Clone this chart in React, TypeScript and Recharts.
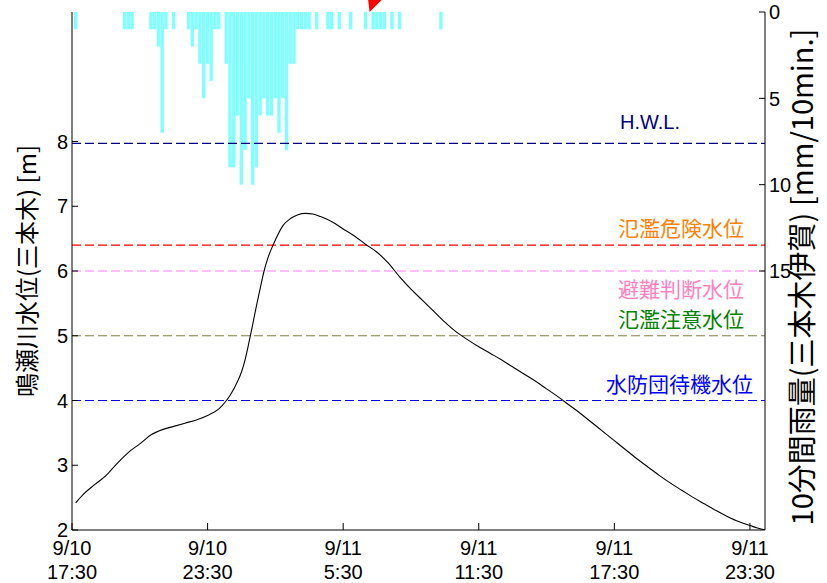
import {
  ComposedChart, Bar, Line, XAxis, YAxis, ReferenceLine, ReferenceDot,
} from 'recharts'

// rain per 10 minutes [mm], slot k = 17:30 + 10k min on 9/10
const RAIN = [
  0, 1, 0, 0, 0, 0, 0, 0, 0, 0,
  0, 0, 0, 0, 1, 1, 1, 0, 0, 0,
  0, 1, 1, 2, 7, 1, 0, 1, 0, 0,
  0, 1, 2, 1, 3, 5, 3, 4, 1, 1,
  0, 3, 9, 9, 6, 10, 8, 5, 10, 9,
  6, 5, 6, 6, 5, 7, 5, 8, 3, 3,
  1, 1, 1, 1, 0, 1, 0, 0, 1, 1,
  0, 1, 0, 0, 1, 0, 0, 0, 1, 0,
  1, 1, 1, 1, 0, 1, 0, 1, 0, 0,
  0, 0, 0, 0, 0, 0, 0, 0, 1,
]
const RAIN_STEP = 10

// water level readings (minutes after 9/10 17:30, metres)
const LEVEL_T = [
  10, 30, 60, 90, 120, 150, 180, 210, 240, 270, 300, 330, 360, 390, 410, 420,
  440, 450, 460, 470, 480, 490, 500, 510, 520, 530, 540, 560, 580, 600, 620, 640,
  660, 690, 720, 750, 780, 810, 840, 870, 900, 930, 960, 990, 1020, 1050, 1080, 1110,
  1140, 1170, 1200, 1230, 1260, 1290, 1320, 1350, 1380, 1410, 1440, 1470, 1500, 1530,
  1560, 1590, 1620, 1650, 1680, 1710, 1740, 1770, 1800, 1820, 1840,
]
const LEVEL_V = [
  2.42, 2.55, 2.70, 2.84, 3.03, 3.20, 3.33, 3.47, 3.55, 3.60, 3.65, 3.70, 3.77, 3.87, 4.00, 4.08,
  4.30, 4.44, 4.64, 4.90, 5.18, 5.47, 5.74, 6.00, 6.20, 6.35, 6.48, 6.70, 6.81, 6.87, 6.89, 6.88,
  6.84, 6.76, 6.65, 6.54, 6.41, 6.29, 6.12, 5.91, 5.72, 5.55, 5.38, 5.21, 5.06, 4.94, 4.83, 4.73,
  4.63, 4.52, 4.41, 4.30, 4.18, 4.06, 3.93, 3.80, 3.66, 3.52, 3.38, 3.24, 3.10, 2.97,
  2.84, 2.72, 2.61, 2.50, 2.40, 2.30, 2.21, 2.13, 2.07, 2.03, 2.00,
]

const X_TICKS = [0, 360, 720, 1080, 1440, 1800]
const X_TICK_DATES = ['9/10', '9/10', '9/11', '9/11', '9/11', '9/11']
const X_TICK_TIMES = ['17:30', '23:30', '5:30', '11:30', '17:30', '23:30']
const LEFT_TICKS = [2, 3, 4, 5, 6, 7, 8]
const RIGHT_TICKS = [0, 5, 10, 15]

const LEVELS = [
  { value: 7.97, label: 'H.W.L.', line: '#000080', text: '#000080', dx: -85, dy: -22 },
  { value: 6.4, label: '氾濫危険水位', line: '#ff0000', text: '#ff8000', dx: -21, dy: -17 },
  { value: 6.0, label: '避難判断水位', line: '#ff80ff', text: '#ff80c0', dx: -21, dy: 18 },
  { value: 5.0, label: '氾濫注意水位', line: '#808040', text: '#008000', dx: -21, dy: -16 },
  { value: 4.0, label: '水防団待機水位', line: '#0000ff', text: '#0000ff', dx: -12, dy: -16 },
]
const MARKER_T = 790

const LATIN = '"Liberation Sans", Arial, sans-serif'
const JP = '"Noto Sans CJK JP", "Liberation Sans", sans-serif'

function buildData() {
  const rows = new Map<number, any>()
  RAIN.forEach((r, k) => rows.set(k * RAIN_STEP, { t: k * RAIN_STEP, rain: r }))
  LEVEL_T.forEach((t, i) => {
    const row = rows.get(t) ?? { t }
    row.level = LEVEL_V[i]
    rows.set(t, row)
  })
  return [...rows.values()].sort((a, b) => a.t - b.t)
}

const BottomTick = ({ x, y, payload }: any) => {
  const i = X_TICKS.indexOf(payload.value)
  return (
    <g>
      <line x1={x} x2={x} y1={y} y2={y - 7} stroke="#000" />
      <text x={x} y={y + 25} textAnchor="middle" fontSize={20} fontFamily={LATIN} fill="#000">{X_TICK_DATES[i]}</text>
      <text x={x} y={y + 49} textAnchor="middle" fontSize={20} fontFamily={LATIN} fill="#000">{X_TICK_TIMES[i]}</text>
    </g>
  )
}

const TopTick = ({ x, y }: any) => <line x1={x} x2={x} y1={y} y2={y + 7} stroke="#333" />

const LeftTick = ({ x, y, payload }: any) => (
  <g>
    <line x1={x} x2={x + 6} y1={y} y2={y} stroke="#000" />
    <text x={x - 4} y={y} dy="0.36em" textAnchor="end" fontSize={20} fontFamily={LATIN} fill="#000">{payload.value}</text>
  </g>
)

const RightTick = ({ x, y, payload }: any) => (
  <g>
    <line x1={x} x2={x - 6} y1={y} y2={y} stroke="#000" />
    <text x={x + 4} y={y} dy="0.36em" textAnchor="start" fontSize={20} fontFamily={LATIN} fill="#000">{payload.value}</text>
  </g>
)

const levelLabel = (lv: typeof LEVELS[number]) => ({ viewBox }: any) => (
  <text
    x={viewBox.x + viewBox.width + lv.dx} y={viewBox.y + lv.dy} dy="0.36em"
    textAnchor="end" fontSize={lv.label === 'H.W.L.' ? 20 : 21}
    fontFamily={lv.label === 'H.W.L.' ? LATIN : JP} fill={lv.text}
  >{lv.label}</text>
)

const Marker = ({ cx, cy }: any) => (
  <polygon points={`${cx - 1.5},${cy - 13} ${cx + 13},${cy - 13} ${cx},${cy}`} fill="#ff0000" />
)

export default function App() {
  const data = buildData()
  return (
    <div style={{ position: 'absolute', left: 0, top: 0, background: '#fff' }}>
      <ComposedChart width={827} height={583} data={data} margin={{ top: 12, right: 0, bottom: 0, left: 0 }}>
        <XAxis
          dataKey="t" type="number" domain={[0, 1840]} allowDataOverflow ticks={X_TICKS}
          height={53} tickSize={0} tickMargin={0} tickLine={false} tick={<BottomTick />}
          axisLine={{ stroke: '#000' }} interval={0}
        />
        <XAxis
          xAxisId="top" orientation="top" dataKey="t" type="number" domain={[0, 1840]} allowDataOverflow
          ticks={X_TICKS} height={0} tickSize={0} tickMargin={0} tickLine={false} tick={<TopTick />}
          axisLine={{ stroke: '#1f3f3f' }} interval={0}
        />
        <YAxis
          yAxisId="left" domain={[2, 10]} allowDataOverflow ticks={LEFT_TICKS} width={72}
          tickSize={0} tickMargin={0} tickLine={false} tick={<LeftTick />} axisLine={{ stroke: '#000' }} interval={0}
          label={{
            value: '鳴瀬川水位(三本木) [m]', angle: -90, position: 'center', dx: -9,
            style: { fontSize: 24, fontFamily: JP, fill: '#000' },
          }}
        />
        <YAxis
          yAxisId="right" orientation="right" reversed domain={[0, 30]} allowDataOverflow ticks={RIGHT_TICKS}
          width={62} tickSize={0} tickMargin={0} tickLine={false} tick={<RightTick />} axisLine={{ stroke: '#000' }}
          interval={0}
          label={{
            value: '10分間雨量(三本木伊賀) [mm/10min.]', angle: -90, position: 'center', dx: 7, dy: 6,
            style: { fontSize: 29, fontFamily: JP, fill: '#000' },
          }}
        />
        <Bar dataKey="rain" yAxisId="right" fill="#80ffff" barSize={3.77} isAnimationActive={false} />
        {LEVELS.map(lv => (
          <ReferenceLine
            key={lv.label} yAxisId="left" y={lv.value} stroke={lv.line} strokeDasharray="9 4"
            strokeWidth={1.2} label={levelLabel(lv)}
          />
        ))}
        <Line
          dataKey="level" yAxisId="left" type="monotone" stroke="#000" strokeWidth={1.1}
          dot={false} connectNulls isAnimationActive={false}
        />
        <ReferenceDot yAxisId="left" x={MARKER_T} y={10} r={0} shape={<Marker />} />
      </ComposedChart>
    </div>
  )
}
